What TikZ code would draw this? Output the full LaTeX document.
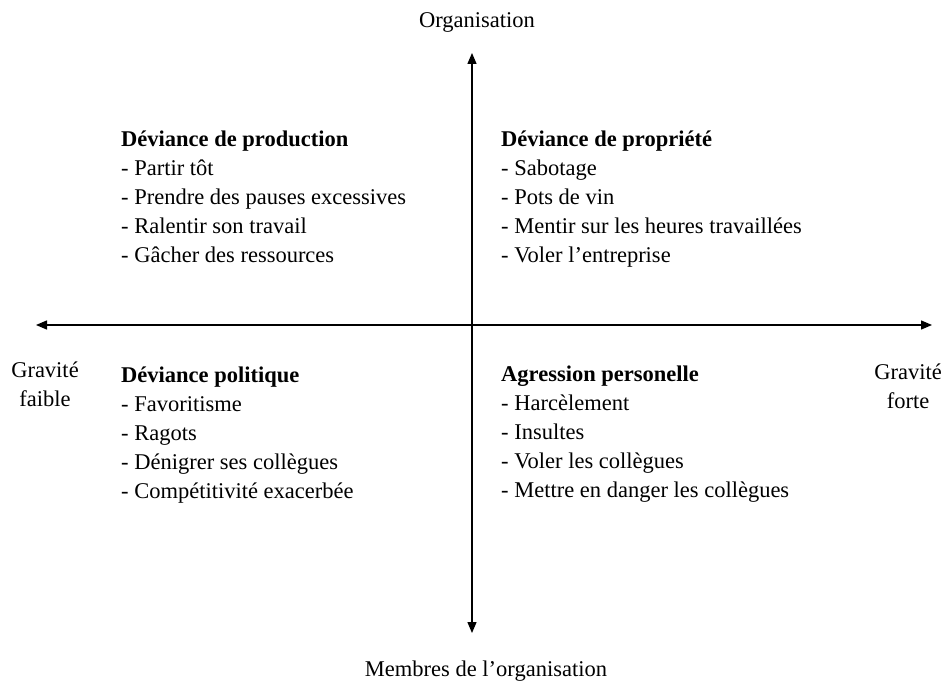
\documentclass[tikz,border=0pt]{standalone}
\usepackage{fontspec}
\setmainfont{Liberation Serif}
\usetikzlibrary{arrows.meta}

\begin{document}
\begin{tikzpicture}[x=1pt, y=-1pt,
  axe/.style = {line width=1.3pt, {Triangle[length=11pt,width=9pt]}-{Triangle[length=11pt,width=9pt]}},
  bloc/.style = {align=left, anchor=base west, inner sep=0pt, font=\fontsize{22.5}{29}\selectfont},
  lab/.style = {align=center, anchor=base, inner sep=0pt, font=\fontsize{22.5}{29}\selectfont}]
\useasboundingbox (0,0) rectangle (946,682);
\coordinate (n) at (472,53);
\coordinate (s) at (472,633);
\coordinate (w) at (36,325);
\coordinate (e) at (932,325);
\draw [axe] (s) -- (n);
\draw [axe] (w) -- (e);
% multi-line nodes: base is the last line
\node[lab] (org) at (477,28) {Organisation};
\node[lab] (mem) at (486,676) {Membres de l'organisation};
\node[lab] (faible) at (45,406) {Gravité\\faible};
\node[lab] (forte) at (908,408) {Gravité\\forte};
\node[bloc] (prod) at (121,262) {\textbf{Déviance de production}\\- Partir tôt\\- Prendre des pauses excessives\\- Ralentir son travail\\- Gâcher des ressources};
\node[bloc] (prop) at (501,262) {\textbf{Déviance de propriété}\\- Sabotage\\- Pots de vin\\- Mentir sur les heures travaillées\\- Voler l'entreprise};
\node[bloc] (pol) at (121,498) {\textbf{Déviance politique}\\- Favoritisme\\- Ragots\\- Dénigrer ses collègues\\- Compétitivité exacerbée};
\node[bloc] (agr) at (501,497) {\textbf{Agression personelle}\\- Harcèlement\\- Insultes\\- Voler les collègues\\- Mettre en danger les collègues};
\end{tikzpicture}
\end{document}
